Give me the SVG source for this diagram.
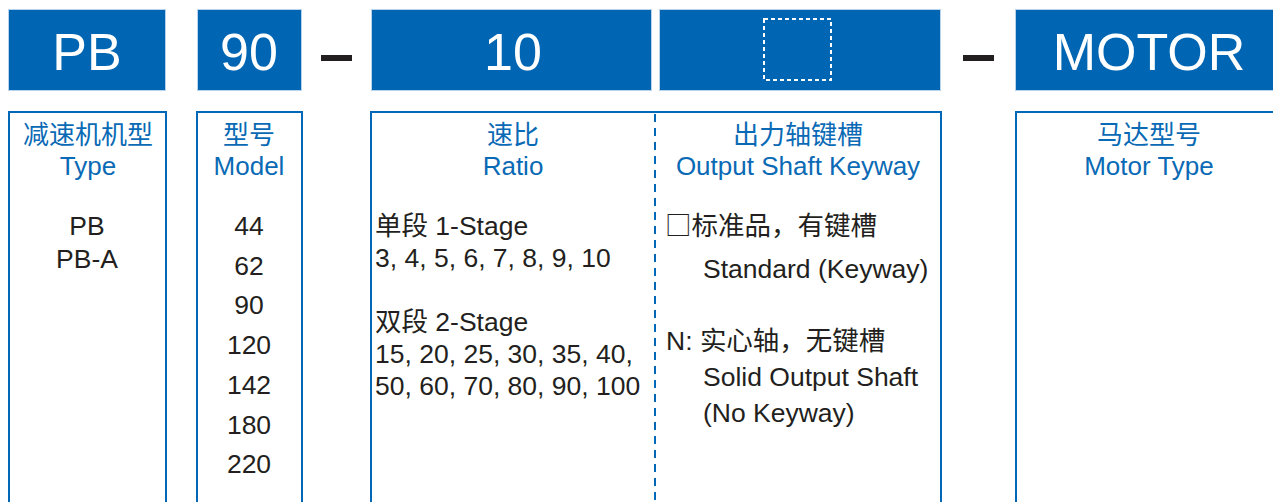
<svg xmlns="http://www.w3.org/2000/svg" width="1273" height="502" viewBox="0 0 1273 502">
<style>
.top{fill:#0066b3;stroke:#b9d3ec;stroke-width:1}
.tt{font-family:"Liberation Sans","Noto Sans CJK SC",sans-serif;font-size:52px;fill:#ffffff;text-anchor:middle}
.frame{fill:none;stroke:#0068b7;stroke-width:2}
.hd{font-family:"Liberation Sans","Noto Sans CJK SC",sans-serif;font-size:26px;fill:#0a6ab5;text-anchor:middle}
.bd{font-family:"Liberation Sans","Noto Sans CJK SC",sans-serif;font-size:26.5px;fill:#231f20}
.bc{text-anchor:middle}
.cjk{font-family:"Noto Sans CJK SC",sans-serif}
.dash{fill:#231f20}
</style>
<rect width="1273" height="502" fill="#ffffff"/>
<g id="node-type">
<rect class="top" x="8.5" y="9.5" width="157" height="81"/>
<text class="tt" x="87" y="70">PB</text>
<rect class="frame" x="9" y="112" width="157" height="400"/>
<text class="hd" x="88" y="144">减速机机型</text>
<text class="hd" x="88" y="175">Type</text>
<text class="bd bc" x="87" y="235">PB</text>
<text class="bd bc" x="87" y="268">PB-A</text>
</g>
<g id="node-model">
<rect class="top" x="197.5" y="9.5" width="104" height="81"/>
<text class="tt" x="249" y="70">90</text>
<rect class="frame" x="197" y="112" width="105" height="400"/>
<text class="hd" x="249" y="144">型号</text>
<text class="hd" x="249" y="175">Model</text>
<text class="bd bc" x="249" y="235">44</text>
<text class="bd bc" x="249" y="275">62</text>
<text class="bd bc" x="249" y="314">90</text>
<text class="bd bc" x="249" y="354">120</text>
<text class="bd bc" x="249" y="394">142</text>
<text class="bd bc" x="249" y="434">180</text>
<text class="bd bc" x="249" y="473">220</text>
</g>
<g id="sep1"><rect class="dash" x="321" y="55" width="31" height="6"/></g>
<g id="node-ratio">
<rect class="top" x="371.5" y="9.5" width="280" height="81"/>
<text class="tt" x="513" y="70">10</text>
<text class="hd" x="513" y="144">速比</text>
<text class="hd" x="513" y="175">Ratio</text>
<text class="bd" x="375" y="235">单段 1-Stage</text>
<text class="bd" x="375" y="267">3, 4, 5, 6, 7, 8, 9, 10</text>
<text class="bd" x="375" y="331">双段 2-Stage</text>
<text class="bd" x="375" y="363">15, 20, 25, 30, 35, 40,</text>
<text class="bd" x="375" y="395">50, 60, 70, 80, 90, 100</text>
</g>
<g id="node-keyway">
<rect class="top" x="659.5" y="9.5" width="281" height="81"/>
<rect x="764" y="19" width="67" height="61" fill="none" stroke="#ffffff" stroke-width="2" stroke-dasharray="4 3"/>
<text class="hd" x="798" y="144">出力轴键槽</text>
<text class="hd" x="798" y="175">Output Shaft Keyway</text>
<text class="bd cjk" x="665" y="235">□标准品，有键槽</text>
<text class="bd" x="703" y="278">Standard (Keyway)</text>
<text class="bd" x="666" y="350">N: <tspan class="cjk">实心轴，无键槽</tspan></text>
<text class="bd" x="703" y="386">Solid Output Shaft</text>
<text class="bd" x="703" y="422">(No Keyway)</text>
</g>
<rect class="frame" x="371" y="112" width="570" height="400"/>
<g id="sep2"><rect class="dash" x="963" y="55" width="31" height="6"/></g>
<g id="node-motor">
<rect class="top" x="1015.5" y="9.5" width="270" height="81"/>
<text class="tt" x="1149" y="70">MOTOR</text>
<rect class="frame" x="1016" y="112" width="270" height="400"/>
<text class="hd" x="1149" y="144">马达型号</text>
<text class="hd" x="1149" y="175">Motor Type</text>
</g>
<g id="connectors">
<line x1="655" y1="114" x2="655" y2="502" stroke="#0068b7" stroke-width="2" stroke-dasharray="8 6"/>
</g>
</svg>
